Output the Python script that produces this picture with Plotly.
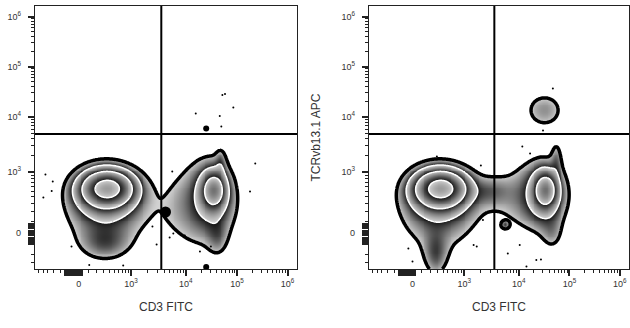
import numpy as np
import plotly.graph_objects as go

# ── axis layout (display units of the biexponential scale) ───────────────────
TICK_TEXT = ["0", "10<sup>3</sup>", "10<sup>4</sup>", "10<sup>5</sup>", "10<sup>6</sup>"]
X_TICK_POS = [0.0, 1.0, 2.05, 3.03, 4.0]
Y_TICK_POS = [0.0, 1.22, 2.32, 3.33, 4.33]
X_RANGE = [-0.84, 4.18]
Y_RANGE = [-0.72, 4.54]
GATE_X = 1.58
GATE_Y = 1.98

# linear-region minor tick values and the dense cluster around zero
LIN_MINOR = [-600, -500, -400, -300, -200, 100, 200, 300, 400, 500, 600, 700, 800, 900]
X_CLUSTER = list(range(-150, 31, 20))
Y_CLUSTER = list(range(-100, 101, 20))

# ── populations: centre x, centre y, spread x, spread y, weight ──────────────
LEFT_CX = [0.55, 0.52, 0.50, 0.50, 2.59, 2.55, 2.35, 2.66, 2.72]
LEFT_CY = [0.90, 0.80, 0.40, -0.20, 0.86, 0.78, 0.55, -0.10, 1.40]
LEFT_SX = [0.28, 0.35, 0.62, 0.30, 0.14, 0.24, 0.55, 0.13, 0.07]
LEFT_SY = [0.20, 0.30, 0.65, 0.22, 0.22, 0.42, 0.68, 0.25, 0.20]
LEFT_W = [0.90, 0.30, 0.10, 0.06, 0.42, 0.12, 0.10, 0.05, 0.06]

RIGHT_CX = [0.55, 0.52, 0.50, 0.45, 1.50, 2.57, 2.55, 2.33, 2.70, 2.78, 2.55, 1.79]
RIGHT_CY = [0.90, 0.80, 0.40, -0.45, 0.84, 0.86, 0.78, 0.74, -0.05, 1.50, 2.46, 0.16]
RIGHT_SX = [0.28, 0.35, 0.62, 0.15, 0.25, 0.14, 0.24, 0.52, 0.15, 0.07, 0.31, 0.05]
RIGHT_SY = [0.20, 0.30, 0.65, 0.30, 0.20, 0.22, 0.42, 0.52, 0.25, 0.25, 0.29, 0.05]
RIGHT_W = [0.90, 0.30, 0.10, 0.08, 0.055, 0.42, 0.12, 0.10, 0.05, 0.06, 0.085, 0.08]

# isolated events
LEFT_DOT_X = [-0.64, -0.50, -0.52, -0.68, 2.24, 2.75, 2.80, 2.96, 2.70, 2.73, 3.38, 3.28,
              1.79, 1.41, 1.49, 1.74, 1.81, 2.03, 2.32, 2.53, 0.20, 0.85, -0.14]
LEFT_DOT_Y = [1.17, 1.03, 0.84, 0.71, 2.39, 2.76, 2.78, 2.51, 2.34, 2.13, 1.39, 0.83,
              1.23, 0.13, -0.23, -0.09, -0.01, -0.05, -0.37, -0.27, -0.64, -0.65, -0.27]
LEFT_BLOB_X = [2.44, 2.44, 1.66]
LEFT_BLOB_Y = [2.09, -0.68, 0.42]
LEFT_BLOB_SIZE = [6, 6, 11]

RIGHT_DOT_X = [2.71, 2.62, 2.52, 2.12, 2.27, 0.47, 1.32, 1.36, 1.18, 1.24, 1.84, 2.39,
               2.48, 2.07, 2.20, -0.08, 0.00]
RIGHT_DOT_Y = [2.89, 2.21, 2.05, 1.73, 1.59, 1.53, 1.35, 0.26, -0.24, -0.27, -0.41, -0.54,
               -0.53, -0.24, -0.67, -0.31, -0.57]

OUTER_LEVEL = 0.06
LEVEL_RATIO = 2.5
N_WHITE = 3
FONT = "Arial, Liberation Sans, sans-serif"


def biex_pos(v, p1000):
    return p1000 * np.arcsinh(np.asarray(v) / 260.0) / np.arcsinh(1000 / 260.0)


def minor_ticks(pos):
    ticks = list(biex_pos(LIN_MINOR, pos[1]))
    for i in range(1, len(pos) - 1):
        for m in range(2, 10):
            ticks.append(pos[i] + np.log10(m) * (pos[i + 1] - pos[i]))
    return ticks


def density_layers(cx, cy, sx, sy, w):
    gx = np.linspace(X_RANGE[0], X_RANGE[1], 280)
    gy = np.linspace(Y_RANGE[0], Y_RANGE[1], 280)
    X, Y = np.meshgrid(gx, gy)
    dens = np.zeros_like(X)
    for a, b, c, d, e in zip(cx, cy, sx, sy, w):
        dens += e * np.exp(-((X - a) ** 2) / (2 * c * c) - ((Y - b) ** 2) / (2 * d * d))
    lev = np.log(dens / OUTER_LEVEL) / np.log(LEVEL_RATIO)
    shade = np.where(lev >= 0, lev - np.floor(lev), np.nan)
    return gx, gy, lev, shade


fig = go.Figure()
panels = [
    (1, (LEFT_CX, LEFT_CY, LEFT_SX, LEFT_SY, LEFT_W), LEFT_DOT_X, LEFT_DOT_Y),
    (2, (RIGHT_CX, RIGHT_CY, RIGHT_SX, RIGHT_SY, RIGHT_W), RIGHT_DOT_X, RIGHT_DOT_Y),
]
for n, comps, dx, dy in panels:
    xa, ya = ("x", "y") if n == 1 else ("x2", "y2")
    gx, gy, lev, shade = density_layers(*comps)
    fig.add_trace(go.Heatmap(
        x=gx, y=gy, z=shade, xaxis=xa, yaxis=ya, zmin=0, zmax=1, showscale=False,
        colorscale=[[0, "#d6d6d6"], [0.5, "#7c7c7c"], [1, "#111111"]], hoverinfo="skip",
    ))
    fig.add_trace(go.Contour(
        x=gx, y=gy, z=lev, xaxis=xa, yaxis=ya, showscale=False, hoverinfo="skip",
        contours=dict(start=1, end=N_WHITE + 2, size=1, coloring="none"),
        line=dict(color="white", width=1.5),
    ))
    fig.add_trace(go.Contour(
        x=gx, y=gy, z=lev, xaxis=xa, yaxis=ya, showscale=False, hoverinfo="skip",
        contours=dict(start=0, end=0.5, size=1, coloring="none"),
        line=dict(color="black", width=3.5),
    ))
    fig.add_trace(go.Scatter(
        x=dx, y=dy, xaxis=xa, yaxis=ya, mode="markers", hoverinfo="skip",
        marker=dict(color="black", size=2, opacity=1, line=dict(width=0)),
    ))
    if n == 1:
        fig.add_trace(go.Scatter(
            x=LEFT_BLOB_X, y=LEFT_BLOB_Y, xaxis=xa, yaxis=ya, mode="markers",
            hoverinfo="skip",
            marker=dict(color="black", size=LEFT_BLOB_SIZE, opacity=1, line=dict(width=0)),
        ))
    # quadrant gate
    fig.add_shape(type="line", xref=xa, yref="%s domain" % ya, x0=GATE_X, x1=GATE_X,
                  y0=0, y1=1, line=dict(color="black", width=2))
    fig.add_shape(type="line", xref="%s domain" % xa, yref=ya, x0=0, x1=1,
                  y0=GATE_Y, y1=GATE_Y, line=dict(color="black", width=2))

axis_common = dict(
    showline=True, mirror=True, linecolor="#222", linewidth=1.2, showgrid=False,
    zeroline=False, ticks="outside", ticklen=6, tickwidth=2, tickcolor="#222",
    tickfont=dict(family=FONT, size=9, color="#333"),
    automargin=False,
)
x_cluster = list(biex_pos(X_CLUSTER, X_TICK_POS[1]))
y_cluster = list(biex_pos(Y_CLUSTER, Y_TICK_POS[1]))
xaxis = dict(
    axis_common, range=X_RANGE,
    tickvals=X_TICK_POS + x_cluster, ticktext=TICK_TEXT + [""] * len(x_cluster),
    minor=dict(tickvals=minor_ticks(X_TICK_POS), ticklen=3, tickwidth=1, tickcolor="#222",
               ticks="outside"),
    title=dict(text="CD3 FITC", font=dict(family=FONT, size=12, color="#333"), standoff=14),
)
yaxis = dict(
    axis_common, range=Y_RANGE, ticklabelstandoff=5,
    tickvals=Y_TICK_POS + y_cluster, ticktext=TICK_TEXT + [""] * len(y_cluster),
    minor=dict(tickvals=minor_ticks(Y_TICK_POS), ticklen=3, tickwidth=1, tickcolor="#222",
               ticks="outside"),
)

fig.update_layout(
    width=630, height=328, margin=dict(l=0, r=0, t=0, b=0),
    paper_bgcolor="white", plot_bgcolor="white", showlegend=False,
    xaxis=dict(xaxis, domain=[35 / 630, 297 / 630], anchor="y"),
    yaxis=dict(yaxis, domain=[1 - 269 / 328, 1 - 6 / 328], anchor="x"),
    xaxis2=dict(xaxis, domain=[369 / 630, 629 / 630], anchor="y2"),
    yaxis2=dict(yaxis, domain=[1 - 269 / 328, 1 - 6 / 328], anchor="x2",
                title=dict(text="TCRvb13.1 APC", font=dict(family=FONT, size=12, color="#333"),
                           standoff=18)),
)

fig.write_html("out.html", config={"displayModeBar": False},
               post_script="document.body.style.margin = '0';")
